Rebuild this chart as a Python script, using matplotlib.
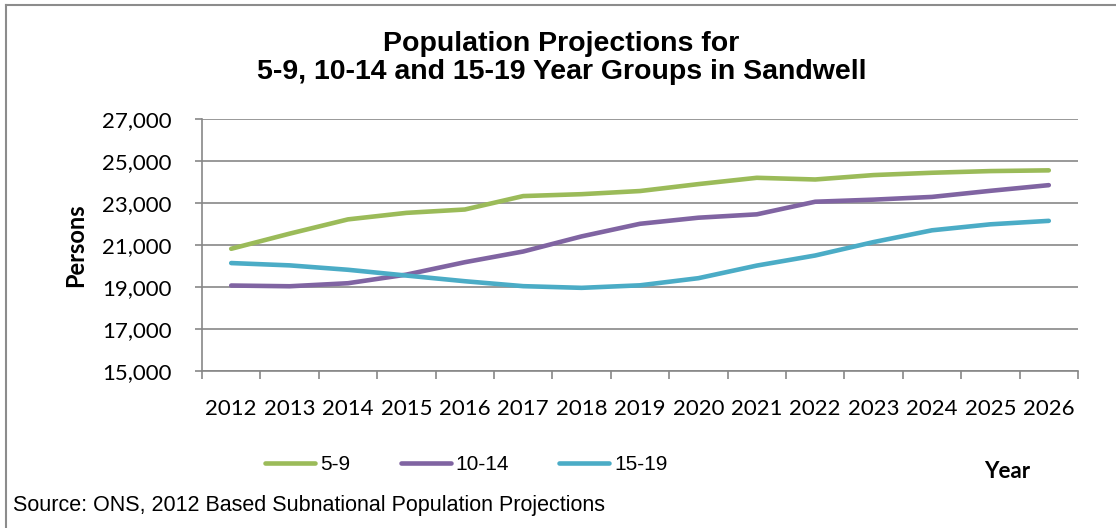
#!/usr/bin/env python3
"""Population projections for 5-9, 10-14 and 15-19 year groups in Sandwell."""

import matplotlib
matplotlib.use("Agg")
import matplotlib.pyplot as plt
from matplotlib.lines import Line2D
from matplotlib.ticker import FuncFormatter

YEARS = list(range(2012, 2027))
AGE_5_9 = [20820, 21540, 22220, 22530, 22690, 23330, 23420, 23570,
           23900, 24200, 24120, 24330, 24440, 24520, 24555]
AGE_10_14 = [19070, 19035, 19180, 19590, 20180, 20690, 21410, 22010,
             22300, 22460, 23060, 23160, 23290, 23580, 23850]
AGE_15_19 = [20140, 20030, 19820, 19545, 19275, 19040, 18960, 19080,
             19420, 20020, 20500, 21140, 21700, 21985, 22150]
SERIES_NAMES = ["5-9", "10-14", "15-19"]
Y_TICKS = [15000, 17000, 19000, 21000, 23000, 25000, 27000]

COLORS = ["#9BBB59", "#8064A2", "#4BACC6"]
GRID = "#878787"
TICK_FONT = ["Lato", "DejaVu Sans"]
ARIAL = ["Liberation Sans", "DejaVu Sans"]

W, H = 1116, 528
fig = plt.figure(figsize=(W / 100, H / 100), dpi=100)
ax = fig.add_axes([202 / W, 1 - 371 / H, (1078 - 202) / W, (371 - 119) / H])

x = list(range(len(YEARS)))
for vals, name, col in zip([AGE_5_9, AGE_10_14, AGE_15_19], SERIES_NAMES, COLORS):
    ax.plot(x, vals, color=col, lw=3.3, solid_capstyle="round", label=name, zorder=3)

ax.set_xlim(-0.5, len(YEARS) - 0.5)
ax.set_ylim(Y_TICKS[0], Y_TICKS[-1])
ax.set_yticks(Y_TICKS)
ax.yaxis.set_major_formatter(FuncFormatter(lambda v, _: f"{int(v):,}"))
ax.grid(axis="y", color=GRID, lw=1.2, zorder=1)
ax.set_axisbelow(True)

# category axis: labels at centres, tick marks between categories
ax.set_xticks(x)
ax.set_xticklabels([str(y) for y in YEARS])
ax.set_xticks([i - 0.5 for i in range(len(YEARS) + 1)], minor=True)
ax.tick_params(axis="x", which="major", length=0, pad=20, labelsize=16)
ax.tick_params(axis="x", which="minor", length=6, width=1.2, color=GRID, direction="out")
ax.tick_params(axis="y", length=5, width=1.2, color=GRID, labelsize=16, pad=17)
for lab in ax.get_xticklabels() + ax.get_yticklabels():
    lab.set_family(TICK_FONT)

for side in ["top", "right"]:
    ax.spines[side].set_visible(False)
for side in ["left", "bottom"]:
    ax.spines[side].set_color(GRID)
    ax.spines[side].set_linewidth(1.2)

ax.set_ylabel("Persons", family=TICK_FONT, fontweight="bold", fontsize=17)
ax.yaxis.set_label_coords(-0.131, 0.5)

fig.text(0.503, 0.89, "Population Projections for\n5-9, 10-14 and 15-19 Year Groups in Sandwell",
         ha="center", va="center", family=ARIAL, fontweight="bold",
         fontsize=20.5, linespacing=1.1)

fig.legend(loc="center", bbox_to_anchor=(0.418, 1 - 465 / H), ncol=3, frameon=False,
           handlelength=2.4, handletextpad=0.25, columnspacing=2.4,
           prop={"family": ARIAL, "size": 15})

fig.text(1007 / W, 1 - 471 / H, "Year", ha="center", va="center",
         family=TICK_FONT, fontweight="bold", fontsize=16)
fig.text(13 / W, 1 - 505 / H, "Source: ONS, 2012 Based Subnational Population Projections",
         ha="left", va="center", family=ARIAL, fontsize=15.5)

# outer chart border (left and top only visible)
fig.add_artist(Line2D([6 / W, 6 / W], [0, 1 - 4.5 / H], transform=fig.transFigure,
                      color="#8C8C8C", lw=1.5))
fig.add_artist(Line2D([6 / W, 1], [1 - 4.5 / H, 1 - 4.5 / H], transform=fig.transFigure,
                      color="#8C8C8C", lw=1.5))

fig.savefig("out.png", dpi=100, facecolor="white")
